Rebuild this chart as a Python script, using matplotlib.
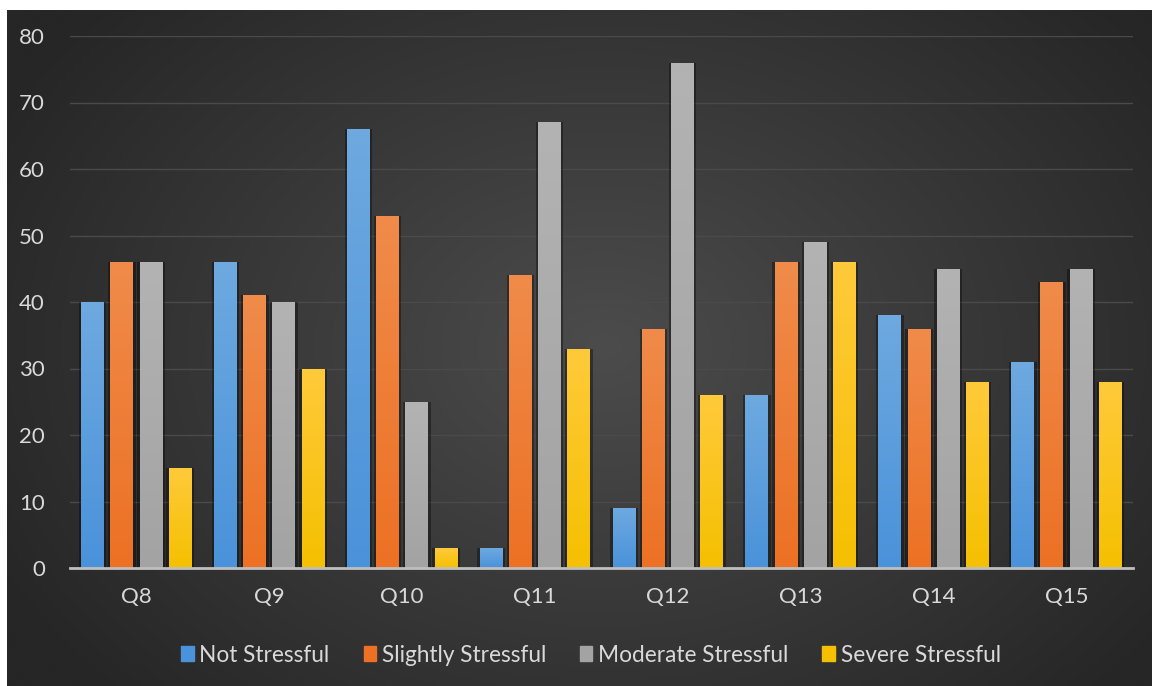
import numpy as np
import matplotlib
matplotlib.use("Agg")
import matplotlib.pyplot as plt
from matplotlib.colors import to_rgb
from matplotlib.patches import Rectangle

categories = ["Q8", "Q9", "Q10", "Q11", "Q12", "Q13", "Q14", "Q15"]
series_names = ["Not Stressful", "Slightly Stressful", "Moderate Stressful", "Severe Stressful"]
not_stressful = [40, 46, 66, 3, 9, 26, 38, 31]
slightly_stressful = [46, 41, 53, 44, 36, 46, 36, 43]
moderate_stressful = [46, 40, 25, 67, 76, 49, 45, 45]
severe_stressful = [15, 30, 3, 33, 26, 46, 28, 28]
series_values = [not_stressful, slightly_stressful, moderate_stressful, severe_stressful]
yticks = [0, 10, 20, 30, 40, 50, 60, 70, 80]

base_colors = ["#4A92DA", "#EC7124", "#A3A3A3", "#F5C000"]
top_colors = ["#6EA9E0", "#F08B4A", "#B3B3B3", "#FFCA3A"]

plt.rcParams['font.family'] = ['Lato', 'DejaVu Sans']

W, H = 1152, 686
fig = plt.figure(figsize=(W / 100, H / 100), dpi=100, facecolor="white")

# background with radial gradient
bg = fig.add_axes([7 / W, 0, 1 - 7 / W, 1 - 10 / H])
bg.set_axis_off()
ny, nx = 200, 330
yy, xx = np.mgrid[0:ny, 0:nx]
cx, cy = nx * 0.52, ny * 0.5
r = np.sqrt(((xx - cx) / (nx * 0.6)) ** 2 + ((yy - cy) / (ny * 0.75)) ** 2)
r = np.clip(r, 0, 1)
c_in = np.array(to_rgb("#4C4C4C"))
c_out = np.array(to_rgb("#262626"))
img = c_in[None, None, :] * (1 - r[..., None]) + c_out[None, None, :] * r[..., None]
bg.imshow(img, aspect="auto", extent=[0, 1, 0, 1], origin="lower", interpolation="bicubic")
bg.set_xlim(0, 1)
bg.set_ylim(0, 1)

ax = fig.add_axes([70 / W, 1 - 568 / H, (1133 - 70) / W, (568 - 36) / H])
ax.patch.set_alpha(0)

n = len(categories)
x = np.arange(n)
pitch = 0.22
bw = 0.173
for i, (vals, bc, tc) in enumerate(zip(series_values, base_colors, top_colors)):
    pos = x + (i - 1.5) * pitch
    # shadow
    ax.bar(pos, vals, width=bw + 0.035, color="black", alpha=0.35, zorder=2, linewidth=0)
    bars = ax.bar(pos, vals, width=bw, color=bc, zorder=3, linewidth=0,
                  label=series_names[i])
    grad = np.linspace(0, 1, 64)[:, None]
    c0 = np.array(to_rgb(bc))
    c1 = np.array(to_rgb(tc))
    gimg = c0[None, None, :] * (1 - grad[..., None]) + c1[None, None, :] * grad[..., None]
    for b, p, v in zip(bars, pos, vals):
        im = ax.imshow(gimg, aspect="auto", origin="lower",
                       extent=[p - bw / 2, p + bw / 2, 0, v], zorder=4,
                       interpolation="bilinear")
        im.set_clip_path(b)

ax.set_xlim(-0.5, n - 0.5)
ax.set_ylim(0, 80)
ax.set_yticks(yticks)
ax.set_xticks(x)
ax.set_xticklabels(categories)
ax.yaxis.grid(True, color="#4A4A4A", linewidth=1.0, zorder=0)
ax.set_axisbelow(True)
for s in ["top", "right", "left"]:
    ax.spines[s].set_visible(False)
ax.spines["bottom"].set_color("#BFBFBF")
ax.spines["bottom"].set_linewidth(2)
ax.spines["bottom"].set_zorder(5)
ax.tick_params(axis="both", length=0, colors="#D9D9D9", labelsize=16)
ax.tick_params(axis="y", pad=18)
ax.tick_params(axis="x", pad=14)

handles = [Rectangle((0, 0), 1, 1, color=c) for c in base_colors]
leg = fig.legend(handles, series_names, loc="center", bbox_to_anchor=(0.513, 1 - 655 / H),
                 ncol=4, frameon=False, fontsize=16.3, handlelength=0.55, handleheight=0.6,
                 handletextpad=0.25, columnspacing=1.5)
for t in leg.get_texts():
    t.set_color("#D9D9D9")

fig.savefig("out.png", dpi=100, facecolor="white")
